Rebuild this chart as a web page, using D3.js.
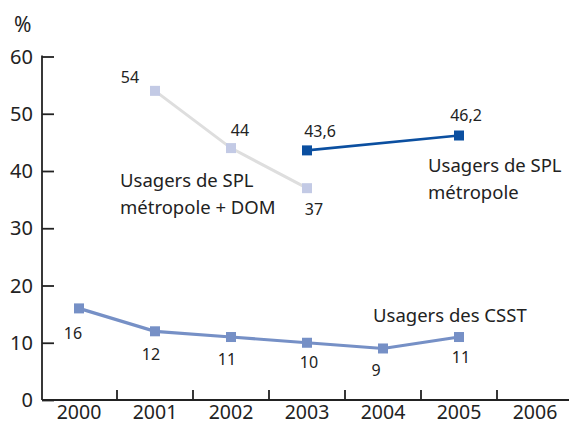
<!DOCTYPE html>
<html lang="fr">
<head>
<meta charset="UTF-8">
<title>Usagers SPL / CSST</title>
<script src="https://cdn.jsdelivr.net/npm/d3@7"></script>
<style>
  body { margin: 0; background: #fff; }
  svg text { font-family: "Noto Sans", "Open Sans", sans-serif; fill: #222; }
</style>
</head>
<body>
<div id="chart"></div>
<script>
// data
var years = ["2000", "2001", "2002", "2003", "2004", "2005", "2006"];
var yTicks = [0, 10, 20, 30, 40, 50, 60];

var csstYears = ["2000", "2001", "2002", "2003", "2004", "2005"];
var csstValues = [16, 12, 11, 10, 9, 11];

var splDomYears = ["2001", "2002", "2003"];
var splDomValues = [54, 44, 37];

var splMetroYears = ["2003", "2005"];
var splMetroValues = [43.6, 46.2];

var width = 569, height = 425;

var svg = d3.select("#chart").append("svg")
  .attr("width", width)
  .attr("height", height);

var x = d3.scaleBand().domain(years).range([41, 573]);
var y = d3.scaleLinear().domain([0, 60]).range([400, 56.5]);

function cx(yr) { return x(yr) + x.bandwidth() / 2; }

// y axis
var yAxis = svg.append("g")
  .attr("transform", "translate(42,0)")
  .call(d3.axisRight(y).tickValues(yTicks).tickSize(12).tickFormat(""));
yAxis.select(".domain").remove();
yAxis.selectAll("line").attr("stroke", "#222").attr("stroke-width", 1.8);
svg.append("line")
  .attr("x1", 42).attr("x2", 42)
  .attr("y1", y(60) - 1).attr("y2", y(0))
  .attr("stroke", "#222").attr("stroke-width", 1.8);

svg.selectAll("text.ytick").data(yTicks).enter().append("text")
  .attr("class", "ytick")
  .attr("x", 33).attr("y", function(d) { return y(d) + 7; })
  .attr("text-anchor", "end")
  .style("font-size", "20px")
  .text(function(d) { return d; });

svg.append("text")
  .attr("x", 14).attr("y", 32)
  .style("font-size", "21px")
  .text("%");

// x axis: baseline + ticks between years
svg.append("line")
  .attr("x1", 42).attr("x2", width)
  .attr("y1", y(0)).attr("y2", y(0))
  .attr("stroke", "#222").attr("stroke-width", 1.8);
svg.selectAll("line.xtick").data(years.slice(1)).enter().append("line")
  .attr("class", "xtick")
  .attr("x1", function(d) { return x(d); }).attr("x2", function(d) { return x(d); })
  .attr("y1", y(0) - 10).attr("y2", y(0))
  .attr("stroke", "#222").attr("stroke-width", 1.8);
svg.selectAll("text.xtick").data(years).enter().append("text")
  .attr("class", "xtick")
  .attr("x", cx).attr("y", 419)
  .attr("text-anchor", "middle")
  .style("font-size", "19.5px")
  .text(function(d) { return d; });

function series(yrs, vals, lineColor, lineW, markColor) {
  var pts = yrs.map(function(d, i) { return [cx(d), y(vals[i])]; });
  svg.append("path")
    .attr("d", d3.line()(pts))
    .attr("fill", "none")
    .attr("stroke", lineColor)
    .attr("stroke-width", lineW);
  svg.selectAll(null).data(pts).enter().append("rect")
    .attr("x", function(p) { return p[0] - 5; })
    .attr("y", function(p) { return p[1] - 5; })
    .attr("width", 10).attr("height", 10)
    .attr("fill", markColor);
}

series(splDomYears, splDomValues, "#dedede", 3, "#c3cae5");
series(splMetroYears, splMetroValues, "#0b4fa0", 2.6, "#0b4fa0");
series(csstYears, csstValues, "#7690c6", 3.2, "#7690c6");

// value labels (offsets from their point)
function labels(yrs, vals, offs, fmt) {
  yrs.forEach(function(d, i) {
    svg.append("text")
      .attr("x", cx(d) + offs[i][0])
      .attr("y", y(vals[i]) + offs[i][1])
      .attr("text-anchor", "middle")
      .style("font-size", "16px")
      .text(fmt(vals[i]));
  });
}
var frNum = function(v) { return String(v).replace(".", ","); };

labels(csstYears, csstValues,
  [[-6, 31], [-4, 29], [-4, 28], [2, 25], [-7, 28], [2, 26]], frNum);
labels(splDomYears, splDomValues,
  [[-25, -8], [9, -12], [7, 27]], frNum);
labels(splMetroYears, splMetroValues,
  [[13, -13], [7, -15]], frNum);

// series names
function note(x0, y0, lines) {
  var t = svg.append("text")
    .attr("x", x0).attr("y", y0)
    .style("font-size", "18.5px");
  lines.forEach(function(s, i) {
    t.append("tspan").attr("x", x0).attr("dy", i ? 27 : 0).text(s);
  });
}
note(120, 187, ["Usagers de SPL", "métropole + DOM"]);
note(428, 172, ["Usagers de SPL", "métropole"]);
note(373, 322, ["Usagers des CSST"]);
</script>
</body>
</html>
